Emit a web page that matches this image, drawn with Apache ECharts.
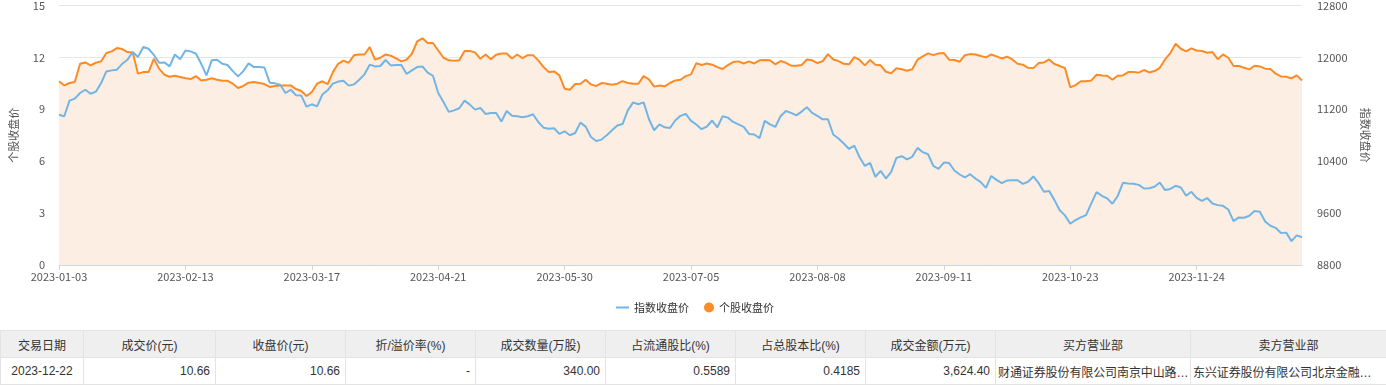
<!DOCTYPE html>
<html>
<head>
<meta charset="utf-8">
<script src="https://cdn.jsdelivr.net/npm/echarts@6/dist/echarts.min.js"></script>
<style>
  html, body { margin: 0; padding: 0; background: #fff; width: 1386px; height: 385px; overflow: hidden; }
  #chart { position: absolute; left: 0; top: 0; width: 1386px; height: 325px; }
  table { position: absolute; left: 0; top: 330px; width: 1386px; border-collapse: collapse; table-layout: fixed;
          font-family: "Liberation Sans", "Noto Sans CJK SC", sans-serif; font-size: 12px; color: #333; }
  th, td { height: 26px; padding: 0 5px; border: 1px solid #e3e3e3; white-space: nowrap; overflow: hidden; text-overflow: ellipsis; }
  th { background: #efefef; font-weight: normal; color: #333; text-align: center; }
  td { background: #fff; text-align: right; }
  td.c { text-align: center; }
  td.l { text-align: left; padding: 0 0 0 2px; text-overflow: clip; letter-spacing: -0.1px; }
</style>
</head>
<body>
<div id="chart"></div>
<table id="tbl"></table>
<script>
// Trading days (2023), months 1..12 in order
const tradingDays = [
  [3,4,5,6,9,10,11,12,13,16,17,18,19,20,30,31],
  [1,2,3,6,7,8,9,10,13,14,15,16,17,20,21,22,23,24,27,28],
  [1,2,3,6,7,8,9,10,13,14,15,16,17,20,21,22,23,24,27,28,29,30,31],
  [3,4,6,7,10,11,12,13,14,17,18,19,20,21,24,25,26,27,28],
  [4,5,8,9,10,11,12,15,16,17,18,19,22,23,24,25,26,29,30,31],
  [1,2,5,6,7,8,9,12,13,14,15,16,19,20,21,26,27,28,29,30],
  [3,4,5,6,7,10,11,12,13,14,17,18,19,20,21,24,25,26,27,28,31],
  [1,2,3,4,7,8,9,10,11,14,15,16,17,18,21,22,23,24,25,28,29,30,31],
  [1,4,5,6,7,8,11,12,13,14,15,18,19,20,21,22,25,26,27,28],
  [9,10,11,12,13,16,17,18,19,20,23,24,25,26,27,30,31],
  [1,2,3,6,7,8,9,10,13,14,15,16,17,20,21,22,23,24,27,28,29,30],
  [1,4,5,6,7,8,11,12,13,14,15,18,19,20,21,22]
];

// 个股收盘价 (left axis)
const stockClose = [
10.62,10.38,10.52,10.58,11.63,11.71,11.54,11.69,11.77,12.25,
12.35,12.54,12.48,12.31,12.29,11.06,11.15,11.15,11.92,11.35,
11.00,10.88,10.94,10.87,10.79,10.75,10.92,10.67,10.71,10.79,
10.71,10.65,10.65,10.48,10.23,10.35,10.54,10.58,10.52,10.46,
10.29,10.35,10.38,10.37,10.38,10.17,10.06,9.77,10.00,10.48,
10.62,10.46,11.15,11.63,11.81,11.69,12.12,12.17,12.17,12.60,
11.87,11.98,12.17,12.10,11.94,11.77,11.87,12.21,12.92,13.10,
12.83,12.83,12.40,11.98,11.83,11.81,11.83,12.37,12.37,12.29,
11.92,12.17,11.90,12.15,12.23,12.23,11.94,12.17,11.96,12.13,
12.13,11.83,11.44,11.15,11.19,10.96,10.19,10.13,10.46,10.48,
10.71,10.44,10.35,10.52,10.48,10.42,10.48,10.63,10.52,10.48,
10.48,10.92,10.73,10.31,10.38,10.33,10.52,10.67,10.71,10.92,
11.02,11.67,11.56,11.65,11.58,11.44,11.33,11.56,11.73,11.77,
11.65,11.77,11.65,11.83,11.85,11.83,11.60,11.79,11.69,11.52,
11.52,11.56,11.88,11.83,11.67,11.79,12.19,11.88,11.79,11.63,
11.60,12.02,11.85,11.54,11.85,11.58,11.54,11.17,11.08,11.37,
11.31,11.23,11.31,11.87,12.06,12.23,12.13,12.23,12.25,11.87,
11.85,11.75,12.13,12.19,12.17,12.08,12.00,12.17,12.06,11.94,
12.04,11.88,11.63,11.58,11.40,11.38,11.67,11.71,11.88,11.62,
11.50,11.38,10.27,10.40,10.62,10.62,10.67,11.00,10.96,10.94,
10.71,10.94,10.96,11.15,11.15,11.12,11.27,11.13,11.21,11.40,
11.88,12.25,12.79,12.50,12.35,12.52,12.40,12.37,12.27,12.31,
11.90,12.17,11.98,11.50,11.50,11.40,11.31,11.52,11.48,11.35,
11.33,11.06,10.90,10.88,10.79,10.96,10.66
];

// 指数收盘价 (right axis)
const indexClose = [
11117,11093,11333,11365,11451,11501,11440,11472,11605,11784,
11800,11811,11901,11965,12083,12005,12160,12133,12040,11917,
11923,11861,12045,11973,12107,12093,12056,11901,11723,11955,
11965,11901,11883,11789,11707,11789,11907,11851,11851,11845,
11611,11600,11579,11451,11501,11416,11411,11240,11277,11245,
11427,11493,11595,11627,11640,11565,11584,11656,11739,11888,
11861,11867,11960,11877,11883,11883,11744,11800,11851,11861,
11765,11717,11451,11312,11160,11184,11216,11333,11272,11195,
11221,11128,11144,11144,11011,11173,11101,11093,11077,11093,
11123,11005,10917,10899,10907,10821,10861,10800,10835,10995,
10933,10773,10712,10733,10800,10877,10949,10973,11184,11307,
11277,11307,11051,10877,10968,10923,10912,11027,11099,11128,
11021,10965,10893,10933,11027,10923,11093,11072,11005,10968,
10928,10821,10811,10755,11021,10968,10928,11093,11173,11144,
11107,11165,11232,11144,11099,11045,11045,10811,10749,10672,
10589,10640,10461,10328,10373,10160,10251,10133,10235,10451,
10477,10427,10467,10605,10539,10507,10328,10283,10379,10373,
10256,10195,10149,10200,10133,10077,9989,10173,10112,10061,
10101,10107,10107,10051,10083,10165,10061,9928,9939,9800,
9645,9565,9435,9493,9533,9568,9749,9923,9867,9827,
9744,9861,10067,10056,10051,10035,9979,9984,10005,10072,
9955,9973,10021,9995,9867,9928,9835,9789,9832,9749,
9723,9712,9656,9477,9533,9528,9560,9632,9621,9472,
9405,9373,9293,9299,9168,9256,9227
];

const tableHeaders = ['交易日期','成交价(元)','收盘价(元)','折/溢价率(%)','成交数量(万股)','占流通股比(%)','占总股本比(%)','成交金额(万元)','买方营业部','卖方营业部'];
const tableRow = ['2023-12-22','10.66','10.66','-','340.00','0.5589','0.4185','3,624.40','财通证券股份有限公司南京中山路…','东兴证券股份有限公司北京金融…'];
const colWidths = [83,132,130,130,130,130,130,130,195,196];
const cellAlign = ['c','','','','','','','','l','l'];

const pad2 = n => (n < 10 ? '0' + n : '' + n);
const categories = [];
tradingDays.forEach((days, mi) => {
  days.forEach(d => categories.push('2023-' + pad2(mi + 1) + '-' + pad2(d)));
});

// build table
const tbl = document.getElementById('tbl');
let html = '<colgroup>' + colWidths.map(w => '<col style="width:' + w + 'px">').join('') + '</colgroup>';
html += '<tr>' + tableHeaders.map(h => '<th>' + h + '</th>').join('') + '</tr>';
html += '<tr>' + tableRow.map((v, i) => '<td class="' + cellAlign[i] + '">' + v + '</td>').join('') + '</tr>';
tbl.innerHTML = html;

const FONT = '"Microsoft YaHei", "Noto Sans CJK SC", sans-serif';
const chart = echarts.init(document.getElementById('chart'), null, { renderer: 'canvas' });
chart.setOption({
  animation: false,
  textStyle: { fontFamily: FONT },
  grid: { left: 57, right: 84, top: 5, bottom: 60 },
  legend: [
    { data: ['指数收盘价'], icon: 'rect', itemWidth: 13, itemHeight: 2, left: 611, top: 297, itemGap: 6,
      textStyle: { fontSize: 11, color: '#333', fontFamily: FONT } },
    { data: ['个股收盘价'], icon: 'circle', itemWidth: 10, itemHeight: 10, left: 699, top: 297,
      textStyle: { fontSize: 11, color: '#333', fontFamily: FONT } }
  ],
  xAxis: {
    type: 'category',
    data: categories,
    boundaryGap: false,
    axisLine: { lineStyle: { color: '#ccd6eb' } },
    axisTick: { interval: 23, length: 5, lineStyle: { color: '#ccd6eb' } },
    axisLabel: { interval: 23, color: '#555', fontSize: 11, margin: 6 },
    splitLine: { show: false }
  },
  yAxis: [
    {
      type: 'value', min: 0, max: 15, interval: 3, position: 'left',
      name: '个股收盘价', nameLocation: 'middle', nameRotate: 90, nameGap: 40,
      nameTextStyle: { color: '#555', fontSize: 11 },
      axisLine: { show: false }, axisTick: { show: false },
      axisLabel: { color: '#555', fontSize: 11, margin: 14 },
      splitLine: { lineStyle: { color: '#e6e6e6' } }
    },
    {
      type: 'value', min: 8800, max: 12800, interval: 800, position: 'right',
      name: '指数收盘价', nameLocation: 'middle', nameRotate: -90, nameGap: 58,
      nameTextStyle: { color: '#555', fontSize: 11 },
      axisLine: { show: false }, axisTick: { show: false },
      axisLabel: { color: '#555', fontSize: 11, margin: 15, formatter: v => String(v) },
      splitLine: { show: false }
    }
  ],
  series: [
    {
      name: '个股收盘价', type: 'line', yAxisIndex: 0, data: stockClose,
      symbol: 'none', showSymbol: false,
      lineStyle: { color: '#fd8b25', width: 2 },
      itemStyle: { color: '#fd8b25' },
      areaStyle: { color: '#fdeee3', opacity: 1 }
    },
    {
      name: '指数收盘价', type: 'line', yAxisIndex: 1, data: indexClose,
      symbol: 'none', showSymbol: false,
      lineStyle: { color: '#72b5e4', width: 2 },
      itemStyle: { color: '#72b5e4' }
    }
  ]
});
</script>
</body>
</html>
